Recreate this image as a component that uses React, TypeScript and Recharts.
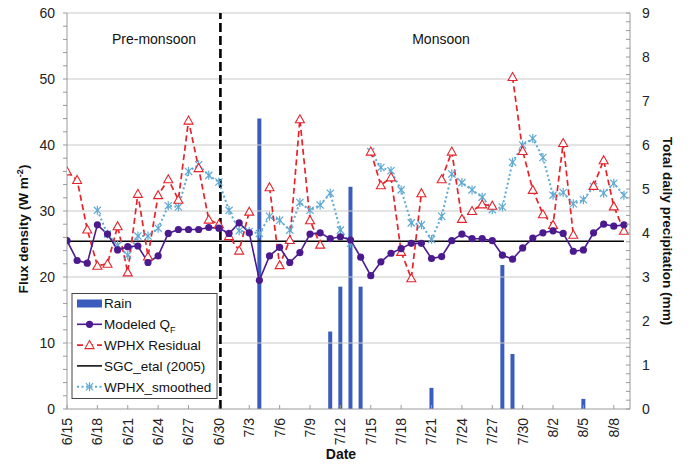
import React from 'react';
import {
  ComposedChart,
  Line,
  Bar,
  XAxis,
  YAxis,
  ReferenceLine,
} from 'recharts';

const dates = [
  '6/15', '6/16', '6/17', '6/18', '6/19', '6/20', '6/21', '6/22', '6/23', '6/24', '6/25', '6/26', '6/27', '6/28', '6/29', '6/30',
  '7/1', '7/2', '7/3', '7/4', '7/5', '7/6', '7/7', '7/8', '7/9', '7/10', '7/11', '7/12', '7/13', '7/14', '7/15', '7/16',
  '7/17', '7/18', '7/19', '7/20', '7/21', '7/22', '7/23', '7/24', '7/25', '7/26', '7/27', '7/28', '7/29', '7/30', '7/31',
  '8/1', '8/2', '8/3', '8/4', '8/5', '8/6', '8/7', '8/8', '8/9',
];

const tickDays = [0, 3, 6, 9, 12, 15, 18, 21, 24, 27, 30, 33, 36, 39, 42, 45, 48, 51, 54];

const modeledQF = [
  25.5, 22.5, 22.1, 27.9, 26.5, 24.1, 24.6, 24.7, 22.2, 23.2, 26.6, 27.2, 27.2, 27.2, 27.5, 27.4,
  26.6, 28.2, 26.7, 19.5, 23.2, 24.5, 22.2, 23.7, 26.5, 26.7, 25.8, 26.1, 25.6, 23.0, 20.2, 22.3,
  23.6, 24.3, 25.1, 25.1, 22.8, 23.1, 25.5, 26.5, 25.8, 25.8, 25.5, 23.3, 22.7, 24.4, 25.9,
  26.7, 27.0, 26.6, 23.9, 24.1, 26.7, 28.0, 27.7, 27.9,
];

const wphxResidual = [
  36.0, 34.7, 27.2, 21.7, 22.0, 27.7, 20.7, 32.6, 23.1, 32.4, 34.8, 31.7, 43.7, 36.5, 28.7, 28.0,
  26.2, 24.0, 29.9, null, 33.6, 21.8, 25.6, 43.9, 28.6, 24.9, null, null, null, null, 39.0, 33.9,
  35.1, 23.8, 19.8, 32.7, null, 34.8, 39.0, 28.8, 30.0, 31.0, 30.8, null, 50.3, 39.1, 33.2,
  29.5, 27.9, 40.3, 26.4, null, 33.8, 37.7, 30.7, 27.0,
];

const wphxSmoothed = [
  null, null, null, 30.1, 26.5, 24.8, 23.3, 26.2, 26.2, 27.4, 30.8, 30.6, 36.0, 37.0, 35.4, 34.4,
  30.1, 27.0, 26.9, 26.6, 29.2, 28.6, 27.1, 31.3, 30.1, 30.9, 32.7, 27.1, 25.1, null, 39.0, 36.6,
  36.1, 33.2, 28.2, 27.9, 25.7, 29.2, 35.6, 34.3, 33.2, 32.1, 30.2, 30.6, 37.4, 40.0, 41.0,
  38.1, 32.4, 32.8, 31.1, 31.7, 33.7, 32.7, 34.2, 32.4,
];

const rainfall = [
  null, null, null, null, null, null, null, null, null, null, null, null, null, null, null, null,
  null, null, null, 6.6, null, null, null, null, null, null, 1.76, 2.78, 5.05, 2.78, null, null,
  null, null, null, null, 0.48, null, null, null, null, null, null, 3.27, 1.25, null, null,
  null, null, null, null, 0.23, null, null, null, null,
];

const sgcValue = 25.4;
const monsoonOnsetDay = 15.15;

const leftTicks = [0, 2, 4, 6, 8, 10, 12, 14, 16, 18, 20, 22, 24, 26, 28, 30, 32, 34, 36, 38, 40, 42, 44, 46, 48, 50, 52, 54, 56, 58, 60];
const leftGrid = [10, 20, 30, 40, 50, 60];
const rightTicks = Array.from({ length: 46 }, (_, i) => Math.round(i * 2) / 10);

const FONT = '"Liberation Sans", Arial, Helvetica, sans-serif';
const C_PURPLE = '#4B1A8E';
const C_RED = '#E5232B';
const C_BLUE = '#3A5CBF';
const C_SKY = '#5FA9D2';
const C_AXIS = '#9A9A9A';
const C_GRID = '#C9C9C9';

const data = dates.map((d, i) => ({
  day: i,
  label: d,
  qf: modeledQF[i],
  resid: wphxResidual[i],
  smooth: wphxSmoothed[i],
  rain: rainfall[i],
}));

const L_MARGIN = 12;
const R_MARGIN = 12;
const X_MARGIN = 9;

const LeftTick = (props: any) => {
  const { x, y, payload } = props;
  const v = payload.value;
  const ax = x + L_MARGIN;
  const major = Math.abs(v % 10) < 1e-6;
  return (
    <g>
      <line x1={ax - 4} y1={y} x2={ax} y2={y} stroke={C_AXIS} strokeWidth={1} />
      {major && (
        <text x={x} y={y} dy="0.35em" textAnchor="end" fontSize={14} fontFamily={FONT} fill="#222">
          {v}
        </text>
      )}
    </g>
  );
};

const RightTick = (props: any) => {
  const { x, y, payload } = props;
  const v = payload.value;
  const ax = x - R_MARGIN;
  const major = Math.abs(v - Math.round(v)) < 1e-6;
  return (
    <g>
      <line x1={ax - 4} y1={y} x2={ax} y2={y} stroke={C_AXIS} strokeWidth={1} />
      {major && (
        <text x={x} y={y} dy="0.35em" textAnchor="start" fontSize={14} fontFamily={FONT} fill="#222">
          {Math.round(v)}
        </text>
      )}
    </g>
  );
};

const DateTick = (props: any) => {
  const { x, y, payload } = props;
  const ay = y - X_MARGIN;
  return (
    <g>
      <line x1={x} y1={ay - 4} x2={x} y2={ay} stroke={C_AXIS} strokeWidth={1} />
      <text
        x={x}
        y={y}
        dy="0.35em"
        textAnchor="end"
        fontSize={14}
        fontFamily={FONT}
        fill="#222"
        transform={`rotate(-90, ${x}, ${y})`}
      >
        {dates[payload.value]}
      </text>
    </g>
  );
};

const Triangle = ({ cx, cy, color }: any) => (
  <path
    d={`M${cx},${cy - 4.5} L${cx + 4.5},${cy + 3.5} L${cx - 4.5},${cy + 3.5} Z`}
    fill="#fff"
    stroke={color}
    strokeWidth={1.1}
  />
);

const Star = ({ cx, cy, color }: any) => (
  <g stroke={color} strokeWidth={1.2}>
    <line x1={cx - 3.6} y1={cy - 3.6} x2={cx + 3.6} y2={cy + 3.6} />
    <line x1={cx - 3.6} y1={cy + 3.6} x2={cx + 3.6} y2={cy - 3.6} />
    <line x1={cx} y1={cy - 4.5} x2={cx} y2={cy + 4.5} />
  </g>
);

const triDot = (p: any) => {
  if (p.value == null || p.cx == null || p.cy == null) return <g key={`t${p.index}`} />;
  return <Triangle key={`t${p.index}`} cx={p.cx} cy={p.cy} color={C_RED} />;
};

const starDot = (p: any) => {
  if (p.value == null || p.cx == null || p.cy == null) return <g key={`s${p.index}`} />;
  return <Star key={`s${p.index}`} cx={p.cx} cy={p.cy} color={C_SKY} />;
};

const legendItems = [
  { key: 'rain', label: 'Rain' },
  { key: 'qf', label: 'Modeled Q' },
  { key: 'resid', label: 'WPHX Residual' },
  { key: 'sgc', label: 'SGC_etal (2005)' },
  { key: 'smooth', label: 'WPHX_smoothed' },
];

const LegendIcon = ({ k, y }: { k: string; y: number }) => {
  const x1 = 77;
  const x2 = 102;
  const cx = (x1 + x2) / 2;
  if (k === 'rain') return <rect x={x1} y={y - 4} width={x2 - x1} height={8} fill={C_BLUE} />;
  if (k === 'qf')
    return (
      <g>
        <line x1={x1} y1={y} x2={x2} y2={y} stroke={C_PURPLE} strokeWidth={1.6} />
        <circle cx={cx} cy={y} r={3.6} fill={C_PURPLE} />
      </g>
    );
  if (k === 'resid')
    return (
      <g>
        <line x1={x1} y1={y} x2={x2} y2={y} stroke={C_RED} strokeWidth={1.6} strokeDasharray="6 4" />
        <Triangle cx={cx} cy={y} color={C_RED} />
      </g>
    );
  if (k === 'sgc') return <line x1={x1} y1={y} x2={x2} y2={y} stroke="#000" strokeWidth={1.5} />;
  return (
    <g>
      <line x1={x1} y1={y} x2={x2} y2={y} stroke={C_SKY} strokeWidth={2} strokeDasharray="2 2.5" />
      <Star cx={cx} cy={y} color={C_SKY} />
    </g>
  );
};

export default function App() {
  return (
    <div style={{ position: 'absolute', left: 0, top: 0, width: 692, height: 464, background: '#fff' }}>
      <ComposedChart
        width={692}
        height={464}
        data={data}
        margin={{ top: 13, right: 0, bottom: 0, left: 0 }}
      >
        <XAxis
          dataKey="day"
          type="number"
          domain={[0, 55.6]}
          ticks={tickDays}
          allowDataOverflow
          interval={0}
          height={55}
          tickSize={0}
          tickMargin={X_MARGIN}
          tick={<DateTick />}
          axisLine={{ stroke: C_AXIS }}
          tickLine={false}
        />
        <YAxis
          yAxisId="left"
          domain={[0, 60]}
          ticks={leftTicks}
          interval={0}
          width={67}
          tickSize={0}
          tickMargin={L_MARGIN}
          tick={<LeftTick />}
          axisLine={{ stroke: C_AXIS }}
          tickLine={false}
        />
        <YAxis
          yAxisId="right"
          orientation="right"
          domain={[0, 9]}
          ticks={rightTicks}
          interval={0}
          width={62}
          tickSize={0}
          tickMargin={R_MARGIN}
          tick={<RightTick />}
          axisLine={{ stroke: C_AXIS }}
          tickLine={false}
        />
        {leftGrid.map((g) => (
          <ReferenceLine key={g} yAxisId="left" y={g} stroke={C_GRID} strokeWidth={1.2} />
        ))}
        <Bar yAxisId="right" dataKey="rain" fill={C_BLUE} barSize={4} isAnimationActive={false} />
        <ReferenceLine
          yAxisId="left"
          x={monsoonOnsetDay}
          stroke="#000"
          strokeWidth={2.6}
          strokeDasharray="9 4"
        />
        <ReferenceLine
          yAxisId="left"
          segment={[
            { x: 0, y: sgcValue },
            { x: 55, y: sgcValue },
          ]}
          stroke="#000"
          strokeWidth={1.5}
        />
        <Line
          yAxisId="left"
          dataKey="smooth"
          stroke={C_SKY}
          strokeWidth={2}
          strokeDasharray="2 2.5"
          dot={starDot}
          activeDot={false}
          isAnimationActive={false}
        />
        <Line
          yAxisId="left"
          dataKey="resid"
          stroke={C_RED}
          strokeWidth={1.7}
          strokeDasharray="6 3.5"
          dot={triDot}
          activeDot={false}
          isAnimationActive={false}
        />
        <Line
          yAxisId="left"
          dataKey="qf"
          stroke={C_PURPLE}
          strokeWidth={1.6}
          dot={{ r: 3.6, fill: C_PURPLE, stroke: C_PURPLE, strokeWidth: 0 }}
          activeDot={false}
          isAnimationActive={false}
        />
      </ComposedChart>
      <svg
        width={692}
        height={464}
        style={{ position: 'absolute', left: 0, top: 0, pointerEvents: 'none' }}
        fontFamily={FONT}
      >
        <text x={154} y={44} textAnchor="middle" fontSize={14} fill="#111">Pre-monsoon</text>
        <text x={441} y={44} textAnchor="middle" fontSize={14} fill="#111">Monsoon</text>
        <text x={341} y={459} textAnchor="middle" fontSize={14} fontWeight="bold" fill="#111">Date</text>
        <text
          x={28}
          y={229}
          textAnchor="middle"
          fontSize={13.6}
          fontWeight="bold"
          fill="#111"
          transform="rotate(-90, 28, 229)"
        >
          Flux density (W m<tspan dy={-5} fontSize={9}>-2</tspan><tspan dy={5}>)</tspan>
        </text>
        <text
          x={663}
          y={231}
          textAnchor="middle"
          fontSize={13.6}
          fontWeight="bold"
          fill="#111"
          transform="rotate(90, 663, 231)"
        >
          Total daily precipitation (mm)
        </text>
        <rect x={72} y={293.5} width={145} height={105} fill="#fff" stroke="#444" strokeWidth={1} />
        {legendItems.map((it, i) => {
          const y = 303.5 + i * 20.8;
          return (
            <g key={it.key}>
              <LegendIcon k={it.key} y={y} />
              <text x={104} y={y} dy="0.36em" fontSize={13.5} fill="#111">
                {it.label}
                {it.key === 'qf' && (
                  <tspan dy={4} fontSize={9}>F</tspan>
                )}
              </text>
            </g>
          );
        })}
      </svg>
    </div>
  );
}
